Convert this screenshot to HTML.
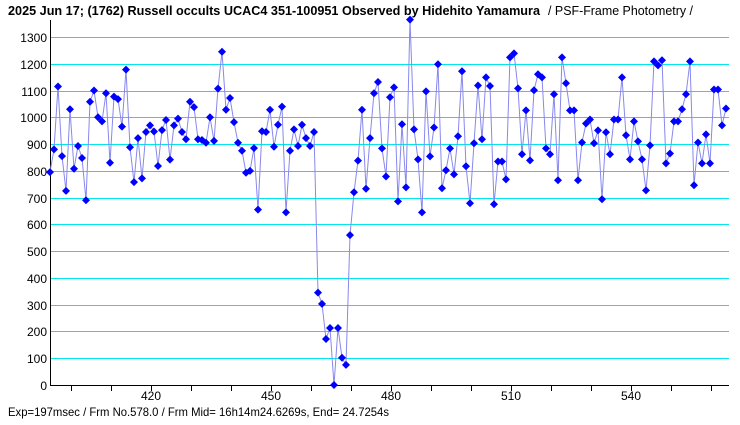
<!DOCTYPE html>
<html><head><meta charset="utf-8"><style>
html,body{margin:0;padding:0;background:#fff;}
svg{display:block;font-family:"Liberation Sans","Noto Sans CJK JP",sans-serif;}
</style></head><body>
<svg id="s" width="740" height="425" viewBox="0 0 740 425" xmlns="http://www.w3.org/2000/svg">
<rect width="740" height="425" fill="#fff"/>
<text x="8" y="15" font-size="13" font-weight="bold" fill="#000" textLength="532" lengthAdjust="spacingAndGlyphs">2025 Jun 17; (1762) Russell occults UCAC4 351-100951 Observed by Hidehito Yamamura</text>
<text x="548" y="15" font-size="13" fill="#000" textLength="145" lengthAdjust="spacingAndGlyphs">/ PSF-Frame Photometry /</text>
<g id="grid"></g>
<line x1="50.5" y1="20" x2="50.5" y2="385" stroke="#000" stroke-width="1"/>
<line x1="50" y1="385.5" x2="729" y2="385.5" stroke="#000" stroke-width="1"/>
<g id="ticks"></g>
<g id="ylab" font-size="12" text-anchor="end" fill="#000"></g>
<g font-size="12" text-anchor="middle" fill="#000">
<text x="151" y="400">420</text><text x="271" y="400">450</text><text x="391" y="400">480</text><text x="511" y="400">510</text><text x="631" y="400">540</text>
</g>
<text x="8" y="416" font-size="12" fill="#000" textLength="381" lengthAdjust="spacingAndGlyphs">Exp=197msec / Frm No.578.0 / Frm Mid= 16h14m24.6269s,  End= 24.7254s</text>
<polyline id="ln" fill="none" stroke="#8888ee" stroke-width="1"/>
<g id="pts" fill="#0000ff"></g>
</svg>
<script>
var ns="http://www.w3.org/2000/svg";
function Y(v){return 385-v*0.2677;}
function el(t,a,p){var e=document.createElementNS(ns,t);for(var k in a)e.setAttribute(k,a[k]);document.getElementById(p).appendChild(e);return e;}
for(var v=100;v<=1300;v+=100){var y=Math.round(Y(v))+0.5;el("line",{x1:51,x2:729,y1:y,y2:y,stroke:"#00e5ee","stroke-width":1},"grid");}
for(var v=0;v<=1300;v+=100){var t=el("text",{x:47,y:Math.round(Y(v))+5},"ylab");t.textContent=v;}
for(var x=71;x<729;x+=40){el("line",{x1:x+0.5,x2:x+0.5,y1:385,y2:391,stroke:"#000"},"ticks");}
var d=[795,880,1115,855,725,1030,808,893,848,690,1058,1100,1000,985,1090,830,1077,1068,965,1178,888,758,922,772,945,970,947,818,952,990,842,970,995,945,918,1058,1038,918,915,905,1000,912,1107,1245,1028,1072,982,905,875,793,800,885,655,948,945,1028,890,972,1040,645,875,955,893,972,922,893,945,345,303,172,213,0,213,102,75,560,720,838,1028,733,922,
1090,1132,884,779,1075,1112,686,974,738,1365,955,843,645,1097,854,962,1198,735,802,884,787,929,1172,817,679,903,1119,918,1149,1117,675,835,835,768,1224,1239,1108,862,1026,839,1101,1161,1149,884,862,1086,765,1224,1127,1026,1026,765,906,977,992,903,951,694,944,862,992,992,1149,933,843,985,910,843,727,895,1209,1194,1213,828,865,985,985,1030,1086,1209,746,906,828,936,828,1104,1104,970,1033];
var pts=[];
for(var i=0;i<d.length;i++){var x=50+i*4,y=Y(d[i]);pts.push(x+","+y.toFixed(1));
el("polygon",{points:(x-4)+","+y+" "+x+","+(y-4)+" "+(x+4)+","+y+" "+x+","+(y+4)},"pts");}
document.getElementById("ln").setAttribute("points",pts.join(" "));
</script>
</body></html>
